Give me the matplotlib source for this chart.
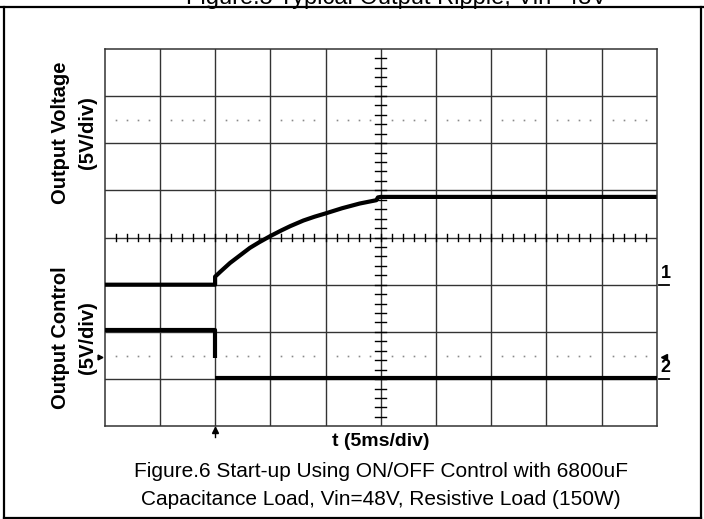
import matplotlib
matplotlib.use('Agg')
import matplotlib.pyplot as plt
import numpy as np

plt.rcParams['font.family'] = ['Liberation Sans', 'DejaVu Sans']

# ---- data (oscilloscope divisions: x 0..10, y 0..8 from bottom) ----
vout_t = [0.0, 2.0, 2.0, 2.1, 2.27, 2.45, 2.63, 2.8, 3.0, 3.2, 3.36, 3.6, 3.8,
          4.0, 4.3, 4.62, 4.92, 4.95, 5.0, 10.0]
vout_d = [3.0, 3.0, 3.17, 3.28, 3.46, 3.62, 3.78, 3.9, 4.03, 4.15, 4.24, 4.36,
          4.44, 4.51, 4.62, 4.72, 4.79, 4.85, 4.86, 4.86]
ctrl_t = [0.0, 2.0, 2.0, np.nan, 2.0, 10.0]
ctrl_d = [2.05, 2.05, 1.45, np.nan, 1.02, 1.02]
trigger_t = 2.0
ch1_ground = 3.0
ch2_ground = 1.0
trig_level = 1.47
dotted_rows = [6.5, 1.5]

W, H = 704, 519
fig = plt.figure(figsize=(W / 100, H / 100), dpi=100)

def fx(x):
    return x / W

def fy(y):
    return 1 - y / H

# plot area
L, R, T, B = 104.7, 656.7, 48.7, 426.3
ax = fig.add_axes([fx(L), fy(B), (R - L) / W, (B - T) / H])
ax.set_xlim(0, 10)
ax.set_ylim(0, 8)
ax.set_xticks([])
ax.set_yticks([])
for s in ax.spines.values():
    s.set_color('#333333')
    s.set_linewidth(1.1)

gcol = '#333333'
for k in range(1, 10):
    ax.axvline(k, color=gcol, lw=1.0, zorder=1)
for k in range(1, 8):
    ax.axhline(k, color=gcol, lw=1.0, zorder=1)

# dotted rows
steps = np.round(np.arange(0.2, 10, 0.2), 2)
dots = [s for s in steps if abs(s - round(s)) > 1e-6]
for r in dotted_rows:
    ax.plot(dots, [r] * len(dots), ls='none', marker='s', ms=1.2,
            color='#8a8a8a', mec='none', zorder=1)

# center ticks
tx = np.round(np.arange(0.2, 10, 0.2), 2)
for t in tx:
    ax.plot([t, t], [4 - 0.08, 4 + 0.08], color='black', lw=1.0, zorder=2)
ty = np.round(np.arange(0.2, 8, 0.2), 2)
for d in ty:
    ax.plot([5 - 0.105, 5 + 0.105], [d, d], color='black', lw=1.0, zorder=2)

# traces
ax.plot(vout_t, vout_d, color='black', lw=3.0, zorder=5, solid_capstyle='butt')
ax.plot(ctrl_t, ctrl_d, color='black', lw=3.0, zorder=5, solid_capstyle='butt')

# trigger arrow below plot
ax.plot([trigger_t, trigger_t], [-0.02, -0.22], color='black', lw=1.0,
        clip_on=False, zorder=6)
ax.plot([trigger_t], [-0.07], marker='^', ms=4, color='black', clip_on=False,
        zorder=6)

# channel markers on right
ax.text(10.07, ch1_ground + 0.06, '1', fontsize=13, fontweight='bold',
        ha='left', va='bottom', clip_on=False)
ax.plot([10.05, 10.22], [ch1_ground, ch1_ground], color='black', lw=1.3,
        clip_on=False)
ax.text(10.07, ch2_ground + 0.06, '2', fontsize=13, fontweight='bold',
        ha='left', va='bottom', clip_on=False)
ax.plot([10.05, 10.22], [ch2_ground, ch2_ground], color='black', lw=1.3,
        clip_on=False)
ax.plot([10.14], [trig_level], marker='<', ms=5, color='black', clip_on=False)
ax.plot([-0.08], [trig_level], marker='>', ms=3.5, color='black', clip_on=False)

# y labels
ax.text(fx(74), fy(133), 'Output Voltage\n(5V/div)', transform=fig.transFigure,
        rotation=90, fontsize=14.5, fontweight='bold', ha='center', va='center',
        multialignment='center', linespacing=1.5)
ax.text(fx(74), fy(338), 'Output Control\n(5V/div)', transform=fig.transFigure,
        rotation=90, fontsize=14.5, fontweight='bold', ha='center', va='center',
        multialignment='center', linespacing=1.5)

# x label
fig.text(fx(381), fy(441), 't (5ms/div)', fontsize=14, fontweight='bold',
         ha='center', va='center')

# caption
fig.text(fx(381), fy(477), 'Figure.6 Start-up Using ON/OFF Control with 6800uF',
         fontsize=15, ha='center', va='baseline')
fig.text(fx(381), fy(505), 'Capacitance Load, Vin=48V, Resistive Load (150W)',
         fontsize=15, ha='center', va='baseline')

# cut-off previous caption at top
fig.text(fx(396), fy(4.0), 'Figure.5 Typical Output Ripple, Vin=48V',
         fontsize=17, ha='center', va='baseline')

# outer frame
frame_kw = dict(color='black', lw=1.6, transform=fig.transFigure)
fig.add_artist(plt.Line2D([fx(0), fx(W)], [fy(6.5), fy(6.5)], **frame_kw))
fig.add_artist(plt.Line2D([fx(4), fx(4)], [fy(6.5), fy(H)], **frame_kw))
fig.add_artist(plt.Line2D([fx(700.5), fx(700.5)], [fy(6.5), fy(H)], **frame_kw))
fig.add_artist(plt.Line2D([fx(4), fx(700.5)], [fy(517.5), fy(517.5)], **frame_kw))

fig.savefig('out.png', dpi=100)
